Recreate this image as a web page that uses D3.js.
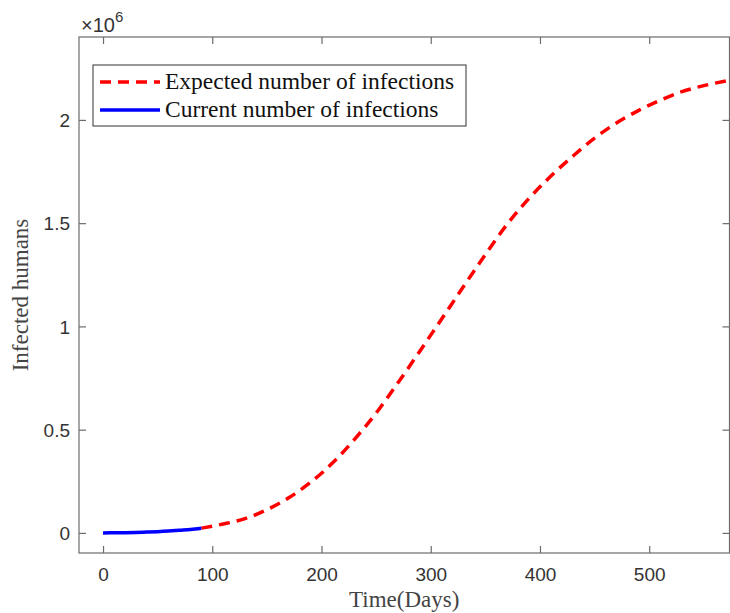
<!DOCTYPE html>
<html>
<head>
<meta charset="utf-8">
<script src="https://cdn.jsdelivr.net/npm/d3@7"></script>
<style>
  body { margin: 0; background: #fff; }
  .tick text { font-family: "Liberation Sans", Arial, sans-serif; font-size: 19px; fill: #333; }
</style>
</head>
<body>
<svg id="chart"></svg>
<script>
var canvas_width = 730;
var canvas_height = 613;
var left = 79, right = 729.5, top_edge = 37, bottom = 553;

// x ticks / y ticks (y in units of 10^6)
var x_ticks = [0, 100, 200, 300, 400, 500];
var y_ticks = [0, 0.5, 1, 1.5, 2];
var y_tick_labels = ["0", "0.5", "1", "1.5", "2"];

// current infections (blue, days 0-90), values x10^6
var current_days = [0, 10, 20, 30, 40, 50, 60, 70, 80, 90];
var current_vals = [0, 0.0005, 0.001, 0.002, 0.004, 0.006, 0.009, 0.013, 0.017, 0.023];

// expected infections (red dashed), values x10^6
var expected_days = [90, 110, 130, 150, 170, 190, 210, 230, 250, 270, 290, 310, 330, 350,
                     370, 390, 410, 430, 450, 470, 490, 510, 530, 550, 572];
var expected_vals = [0.023, 0.043, 0.069, 0.112, 0.170, 0.245, 0.338, 0.452, 0.580, 0.727,
                     0.880, 1.036, 1.193, 1.348, 1.495, 1.620, 1.728, 1.824, 1.912, 1.985,
                     2.045, 2.095, 2.137, 2.166, 2.190];

var legend_labels = ["Expected number of infections", "Current number of infections"];
var legend_colours = ["#ff0000", "#0000ff"];

let svg = d3.select("#chart")
  .attr("width", canvas_width)
  .attr("height", canvas_height);

let x = d3.scaleLinear().domain([-22, 573.5]).range([left, right]);
let y = d3.scaleLinear().domain([-0.0973, 2.4015]).range([bottom, top_edge]);

let axis_col = "#6b6b6b";

// box
svg.append("rect")
  .attr("x", left).attr("y", top_edge)
  .attr("width", right - left).attr("height", bottom - top_edge)
  .attr("fill", "none").attr("stroke", axis_col).attr("stroke-width", 1.2);

// bottom axis
let gx = svg.append("g")
  .attr("transform", "translate(0," + bottom + ")")
  .call(d3.axisBottom(x).tickValues(x_ticks).tickSizeInner(-7).tickSizeOuter(0).tickPadding(15));
// top ticks
let gxt = svg.append("g")
  .attr("transform", "translate(0," + top_edge + ")")
  .call(d3.axisTop(x).tickValues(x_ticks).tickSizeInner(-7).tickSizeOuter(0).tickFormat(""));
// left axis
let gy = svg.append("g")
  .attr("transform", "translate(" + left + ",0)")
  .call(d3.axisLeft(y).tickValues(y_ticks).tickSizeInner(-7).tickSizeOuter(0).tickPadding(9)
    .tickFormat((d, i) => y_tick_labels[i]));
// right ticks
let gyr = svg.append("g")
  .attr("transform", "translate(" + right + ",0)")
  .call(d3.axisRight(y).tickValues(y_ticks).tickSizeInner(-7).tickSizeOuter(0).tickFormat(""));

[gx, gxt, gy, gyr].forEach(g => {
  g.select(".domain").remove();
  g.selectAll(".tick line").attr("stroke", axis_col).attr("stroke-width", 1.2);
});
gx.selectAll(".tick text").attr("dy", "0.71em");
gy.selectAll(".tick text").attr("dy", "0.35em");

// exponent label
let exp = svg.append("text")
  .attr("x", 81).attr("y", 32)
  .style("font-family", "Liberation Sans, Arial, sans-serif")
  .style("font-size", "20px")
  .attr("fill", "#333");
exp.append("tspan").text("\u00d710");
exp.append("tspan").attr("dy", -10).style("font-size", "15px").text("6");

// axis labels
svg.append("text")
  .attr("x", (left + right) / 2).attr("y", 607)
  .attr("text-anchor", "middle")
  .style("font-family", "Liberation Serif, serif")
  .style("font-size", "23px")
  .attr("fill", "#444")
  .text("Time(Days)");

svg.append("text")
  .attr("transform", "translate(28," + ((top_edge + bottom) / 2) + ") rotate(-90)")
  .attr("text-anchor", "middle")
  .style("font-family", "Liberation Serif, serif")
  .style("font-size", "23px")
  .attr("fill", "#444")
  .text("Infected humans");

// lines
let line = d3.line()
  .x(d => x(d[0]))
  .y(d => y(d[1]))
  .curve(d3.curveMonotoneX);

svg.append("clipPath").attr("id", "clip")
  .append("rect").attr("x", left).attr("y", top_edge)
  .attr("width", right - left).attr("height", bottom - top_edge);

svg.append("path")
  .datum(expected_days.map((d, i) => [d, expected_vals[i]]))
  .attr("clip-path", "url(#clip)")
  .attr("d", line)
  .attr("fill", "none")
  .attr("stroke", legend_colours[0])
  .attr("stroke-width", 3.5)
  .attr("stroke-dasharray", "11,7");

svg.append("path")
  .datum(current_days.map((d, i) => [d, current_vals[i]]))
  .attr("d", line)
  .attr("fill", "none")
  .attr("stroke", legend_colours[1])
  .attr("stroke-width", 3.5);

// legend
let lg = svg.append("g");
lg.append("rect")
  .attr("x", 93).attr("y", 65).attr("width", 373).attr("height", 61)
  .attr("fill", "#fff").attr("stroke", "#333").attr("stroke-width", 1);

legend_labels.forEach((lab, i) => {
  let ly = 82 + i * 28;
  lg.append("line")
    .attr("x1", 100).attr("x2", 160).attr("y1", ly).attr("y2", ly)
    .attr("stroke", legend_colours[i]).attr("stroke-width", 3.5)
    .attr("stroke-dasharray", i == 0 ? "11,7" : null);
  lg.append("text")
    .attr("x", 165).attr("y", ly + 7)
    .style("font-family", "Liberation Serif, serif")
    .style("font-size", "23.5px")
    .attr("fill", "#111")
    .text(lab);
});
</script>
</body>
</html>
